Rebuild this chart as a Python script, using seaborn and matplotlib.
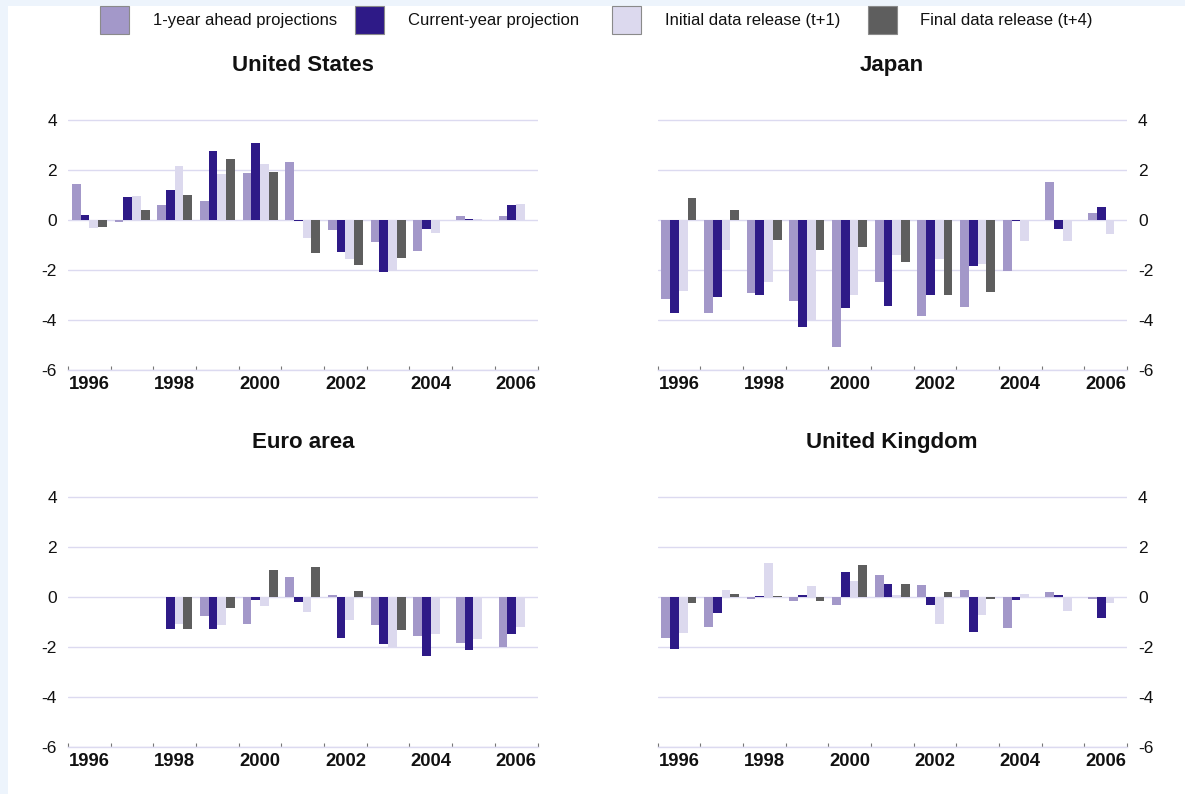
import numpy as np
import pandas as pd
import matplotlib
matplotlib.use("Agg")
import matplotlib.pyplot as plt
from matplotlib.patches import Rectangle
import seaborn as sns

# ---------------- data ----------------
years = [1996, 1997, 1998, 1999, 2000, 2001, 2002, 2003, 2004, 2005, 2006]
series_names = ["1-year ahead projections", "Current-year projection",
                "Initial data release (t+1)", "Final data release (t+4)"]
nan = np.nan

us_ahead   = [1.43, -0.08, 0.59, 0.77, 1.88, 2.33, -0.41, -0.89, -1.25, 0.17, 0.15]
us_current = [0.20, 0.92, 1.21, 2.77, 3.08, -0.05, -1.28, -2.09, -0.35, 0.05, 0.59]
us_initial = [-0.32, 0.97, 2.15, 1.85, 2.23, -0.71, -1.57, -2.05, -0.51, 0.02, 0.65]
us_final   = [-0.28, 0.39, 1.00, 2.44, 1.93, -1.33, -1.79, -1.51, nan, nan, nan]

jp_ahead   = [-3.15, -3.73, -2.93, -3.24, -5.09, -2.49, -3.85, -3.49, -2.04, 1.51, 0.29]
jp_current = [-3.71, -3.09, -2.99, -4.28, -3.53, -3.45, -3.01, -1.85, -0.04, -0.35, 0.51]
jp_initial = [-2.84, -1.20, -2.49, -3.99, -2.99, -1.41, -1.56, -1.77, -0.84, -0.84, -0.57]
jp_final   = [0.87, 0.41, -0.79, -1.20, -1.07, -1.67, -3.01, -2.87, nan, nan, nan]

ea_ahead   = [nan, nan, nan, -0.75, -1.07, 0.80, 0.08, -1.13, -1.55, -1.85, -1.99]
ea_current = [nan, nan, -1.29, -1.29, -0.11, -0.19, -1.65, -1.88, -2.35, -2.12, -1.49]
ea_initial = [nan, nan, -1.08, -1.13, -0.37, -0.60, -0.93, -2.01, -1.48, -1.67, -1.21]
ea_final   = [nan, nan, -1.29, -0.43, 1.07, 1.21, 0.23, -1.32, nan, nan, nan]

uk_ahead   = [-1.65, -1.19, -0.07, -0.17, -0.32, 0.88, 0.49, 0.29, -1.24, 0.19, -0.08]
uk_current = [-2.09, -0.65, 0.04, 0.07, 0.99, 0.52, -0.32, -1.40, -0.11, 0.07, -0.85]
uk_initial = [-1.43, 0.29, 1.36, 0.44, 0.64, 0.08, -1.08, -0.73, 0.12, -0.56, -0.23]
uk_final   = [-0.23, 0.12, 0.04, -0.15, 1.27, 0.52, 0.21, -0.07, nan, nan, nan]

panel_titles = ["United States", "Japan", "Euro area", "United Kingdom"]
y_ticks = [-6, -4, -2, 0, 2, 4]
x_tick_labels = ["1996", "1998", "2000", "2002", "2004", "2006"]

colors = ["#a398c9", "#2e1a87", "#dcd9ee", "#5e5e5e"]
grid_color = "#dcdaf0"

panels = [
    (us_ahead, us_current, us_initial, us_final),
    (jp_ahead, jp_current, jp_initial, jp_final),
    (ea_ahead, ea_current, ea_initial, ea_final),
    (uk_ahead, uk_current, uk_initial, uk_final),
]

# ---------------- figure ----------------
sns.set_theme(style="white")
plt.rcParams["font.family"] = ["Liberation Sans", "DejaVu Sans"]

W, H = 1185, 794
fig = plt.figure(figsize=(W / 100, H / 100), dpi=100)
fig.patch.set_facecolor("#edf4fc")
fig.patches.append(Rectangle((8 / W, 0), 1 - 8 / W, 1 - 6 / H, transform=fig.transFigure,
                             facecolor="white", edgecolor="none", zorder=-10))

ymin, ymax = -6, 4.4
ax_h = (ymax - ymin) * 25 / H
lefts = [68 / W, 657.5 / W]
bottoms = [1 - 370 / H, 1 - 747 / H]
ax_w = 469.5 / W

for i, (vals, title) in enumerate(zip(panels, panel_titles)):
    row, col = divmod(i, 2)
    ax = fig.add_axes([lefts[col], bottoms[row], ax_w, ax_h])
    ax.set_zorder(1)
    ax.set_facecolor("none")
    rows = []
    for name, series in zip(series_names, vals):
        for y, v in zip(years, series):
            rows.append({"year": str(y), "series": name, "value": v})
    df = pd.DataFrame(rows)
    sns.barplot(data=df, x="year", y="value", hue="series",
                order=[str(y) for y in years], hue_order=series_names,
                palette=colors, width=0.82, errorbar=None, saturation=1,
                linewidth=0, legend=False, ax=ax, zorder=2)
    ax.set_xlim(-0.5, len(years) - 0.5)
    ax.set_ylim(ymin, ymax)
    ax.set_xlabel("")
    ax.set_ylabel("")

    # y grid
    ax.set_yticks(y_ticks)
    ax.set_yticklabels([str(t) for t in y_ticks], fontsize=12.5, color="#111111")
    ax.yaxis.grid(True, color=grid_color, linewidth=1, zorder=0)
    ax.set_axisbelow(True)
    ax.tick_params(axis="y", length=0, pad=8)
    if col == 1:
        ax.yaxis.tick_right()
        ax.tick_params(axis="y", length=0, pad=8)

    # x ticks: boundaries as marks, labels on even years
    ax.set_xticks(np.arange(-0.5, len(years)), labels=[""] * (len(years) + 1))
    ax.set_xticks([0, 2, 4, 6, 8, 10], labels=x_tick_labels, minor=True)
    ax.tick_params(axis="x", which="major", direction="in", length=3, width=0.8,
                   color="#777777", bottom=True)
    ax.tick_params(axis="x", which="minor", length=0, pad=4, labelsize=13.3)
    for lab in ax.get_xticklabels(minor=True):
        lab.set_fontweight("bold")
        lab.set_color("#111111")

    for s in ["top", "right", "left"]:
        ax.spines[s].set_visible(False)
    ax.spines["bottom"].set_color(grid_color)
    ax.spines["bottom"].set_linewidth(1)

    ax.text(0.5, 1.17, title, transform=ax.transAxes, ha="center", va="center",
            fontsize=16, fontweight="bold", color="#111111")

# legend (manual placement along the top)
patch_x = [100, 355, 612, 868]
text_x = [153, 408, 665, 920]
for px, tx, c, name in zip(patch_x, text_x, colors, series_names):
    fig.patches.append(Rectangle((px / W, 1 - 34 / H), 29 / W, 28 / H,
                                 transform=fig.transFigure, facecolor=c,
                                 edgecolor="#8a8a8a", linewidth=0.8, zorder=3))
    fig.text(tx / W, 1 - 20 / H, name, ha="left", va="center", fontsize=12,
             color="#111111")

fig.savefig("out.png", dpi=100, facecolor=fig.get_facecolor())
